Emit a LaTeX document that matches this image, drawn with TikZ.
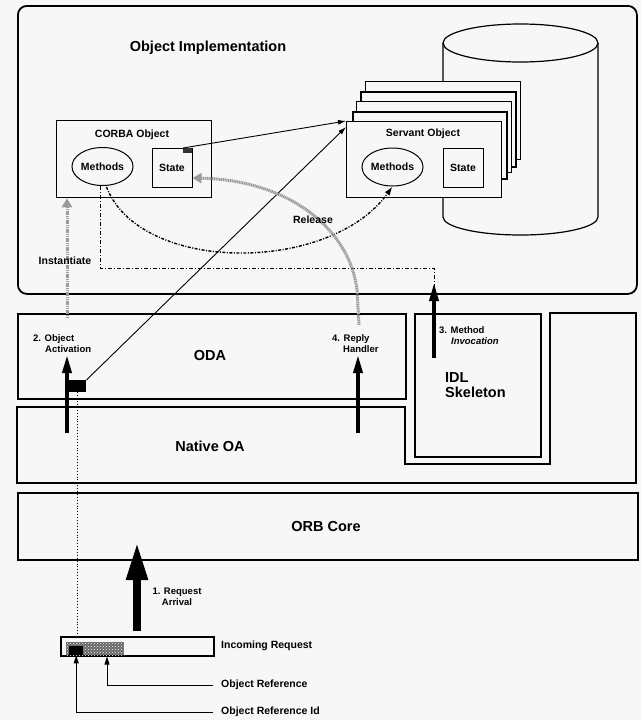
\documentclass[tikz,border=0pt]{standalone}
\usepackage{fontspec}
\setmainfont{Liberation Sans}
\usetikzlibrary{arrows.meta,shapes.geometric,calc,patterns}
\definecolor{bg}{HTML}{F7F7F7}
\definecolor{hatch}{HTML}{9A9A9A}
\begin{document}
\begin{tikzpicture}[x=1pt,y=-1pt,
  layer/.style={draw,line width=1.8pt,inner sep=0pt,anchor=north west},
  objbox/.style={draw,line width=1.3pt,fill=bg,inner sep=0pt,anchor=north west},
  bigtxt/.style={font=\fontsize{14.5}{16}\selectfont\bfseries,inner sep=0pt},
  lbl/.style={font=\fontsize{10.5}{11}\selectfont\bfseries,inner sep=0pt},
  steplbl/.style={font=\fontsize{9.5}{11}\selectfont\bfseries,inner sep=0pt,align=left,anchor=west},
  methodell/.style={draw,ellipse,line width=1pt,inner sep=0pt,minimum width=55pt,minimum height=38pt,font=\fontsize{10.5}{11}\selectfont\bfseries},
  statebox/.style={draw,line width=1pt,inner sep=0pt,minimum width=40pt,minimum height=39pt,font=\fontsize{10.5}{11}\selectfont\bfseries},
  steparrow/.style={line width=3.5pt,-{Triangle[length=18pt,width=9pt]}},
  thinln/.style={line width=0.9pt,-{Latex[length=8pt,width=5pt]}},
  dashdot/.style={line width=1pt,dash pattern=on 4pt off 2pt on 1pt off 2pt},
  curvedash/.style={line width=1.4pt,dash pattern=on 3pt off 1.5pt on 1pt off 1.5pt,-{Latex[length=9pt,width=6pt]}},
  grayarrow/.style={draw=hatch,line width=3pt,dash pattern=on 1.2pt off 0.6pt,-{Triangle[length=9pt,width=10pt]}},
  refarrow/.style={line width=1pt,-{Triangle[length=8pt,width=5pt]}}
]
\fill[bg] (0,0) rectangle (641,720);
\useasboundingbox (0,0) rectangle (641,720);

% Object implementation
\node[layer,rounded corners=9pt,minimum width=619pt,minimum height=288pt] (impl) at (17,5) {};
\node[bigtxt] (impltxt) at (208,48) {Object Implementation};

% cylinder
\draw[line width=1.2pt] (443,43) -- (443,217) arc(180:0:77.5 and 18) -- (598,43);
\draw[line width=1.2pt] (520.5,43) ellipse (77.5 and 19);

% servant stack
\node[objbox,minimum width=155pt,minimum height=78pt,line width=1pt] (sv5) at (365,81) {};
\node[objbox,minimum width=155pt,minimum height=75pt,line width=1.6pt] (sv4) at (360,91) {};
\node[objbox,minimum width=155pt,minimum height=71pt,line width=1pt] (sv3) at (356,101) {};
\node[objbox,minimum width=154pt,minimum height=67pt,line width=1.6pt] (sv2) at (352,111) {};
\node[objbox,minimum width=155pt,minimum height=76pt] (servant) at (346,121) {};
\node[lbl] (servtxt) at (423,134) {Servant Object};
\node[methodell] (sm) at (392.5,167) {Methods};
\node[statebox] (ss) at (463,167.5) {State};

% CORBA object
\node[objbox,minimum width=155pt,minimum height=77pt] (corba) at (56,120) {};
\node[lbl] (corbatxt) at (132,135) {CORBA Object};
\node[methodell] (cm) at (102.5,166.5) {Methods};
\node[statebox] (cs) at (172,168) {State};
\node[fill=black!80,minimum width=9pt,minimum height=5pt,inner sep=0pt,anchor=north east] (ctab) at (cs.north east) {};

% layers
\node[layer,minimum width=388pt,minimum height=85pt] (oda) at (17,313) {};
\node[bigtxt] (odatxt) at (210,356) {ODA};
\draw[line width=1.8pt] (17,407) -- (405,407) -- (405,464) -- (550,464) -- (550,313) -- (636,313) -- (636,483) -- (17,483) -- cycle;
\node[bigtxt] (natxt) at (210,446) {Native OA};
\node[layer,minimum width=126pt,minimum height=143pt] (idl) at (414,313) {};
\node[bigtxt,align=left,anchor=west,font=\fontsize{14.5}{15}\selectfont\bfseries] (idltxt) at (445,385) {IDL\\Skeleton};
\node[layer,minimum width=620pt,minimum height=67pt] (orb) at (17,492) {};
\node[bigtxt] (orbtxt) at (326,527) {ORB Core};

% ODA black box
\node[fill=black,minimum width=17pt,minimum height=12pt,inner sep=0pt,anchor=north west] (odabox) at (69,380) {};

% incoming request
\node[layer,line width=1.6pt,minimum width=153pt,minimum height=19pt] (inreq) at (60,636) {};
\node[fill=black!60,minimum width=58pt,minimum height=13pt,inner sep=0pt,anchor=north west] (hatchpart) at (66,642) {};
\fill[pattern=crosshatch dots,pattern color=white] (hatchpart.south west) rectangle (hatchpart.north east);
\node[fill=black,minimum width=14pt,minimum height=9pt,inner sep=0pt,anchor=north west] (refid) at (69,646) {};
\node[lbl,anchor=west] (inreqtxt) at (221,646) {Incoming Request};
\node[lbl,anchor=west] (ortxt) at (221,685) {Object Reference};
\node[lbl,anchor=west] (oridtxt) at (221,712) {Object Reference Id};

% reference arrows
\draw[refarrow] ($(ortxt.west)+(-8,0)$) -| (inreq.south -| 107,0);
\draw[refarrow] ($(oridtxt.west)+(-8,0)$) -| (refid.south);

% dotted line from ODA box to request
\draw[line width=0.9pt,dotted] (odabox.south) -- (inreq.north -| odabox.south);

% arrow 1
\coordinate (a1s) at (137,631);
\coordinate (a1e) at (137,542);
\draw[line width=8pt,-{Triangle[length=38pt,width=20pt]}] (a1s) -- (a1e);
\node[lbl,align=center,font=\fontsize{9.5}{11}\selectfont\bfseries] (a1txt) at (177,597) {1. Request\\Arrival};

% arrow 2
\coordinate (a2s) at (67,433);
\coordinate (a2e) at (67,355);
\draw[steparrow] (a2s) -- (a2e);
\node[steplbl] (a2txt) at (33,344) {2. Object\\\hspace*{12pt}Activation};

% arrow 4
\coordinate (a4s) at (358,433);
\coordinate (a4e) at (358,355);
\draw[steparrow] (a4s) -- (a4e);
\node[steplbl] (a4txt) at (332,344) {4. Reply\\\hspace*{11pt}Handler};

% arrow 3
\coordinate (a3s) at (434,358);
\coordinate (a3e) at (434,283);
\draw[steparrow] (a3s) -- (a3e);
\node[steplbl] (a3txt) at (439,336) {3. Method\\\hspace*{12pt}\itshape Invocation};

% dash-dot connector
\coordinate (inv) at (434,268);
\draw[dashdot] ($(cm.south)+(-2.5,0)$) |- (inv) -- (inv |- impl.south);

% methods to methods
\draw[curvedash] ($(cm.south)+(4,1)$) .. controls (140,274) and (330,274) .. (sm.south);

% state tab to servant
\draw[thinln] (ctab.north west) -- (servant.north west);
% ODA box to servant
\draw[thinln] (odabox.north east) -- ($(servant.north west)+(0,6)$);

% release
\coordinate (rel0) at (359,325);
\draw[grayarrow] (rel0) -- (357,290) .. controls (350,230) and (290,180) .. ($(cs.south east)+(0,-10)$);
\node[lbl] (reltxt) at (313,220) {Release};

% instantiate
\coordinate (inst0) at (67,318);
\draw[grayarrow] (inst0) -- ($(corba.south west)+(11,0)$);
\node[lbl] (insttxt) at (65,261) {Instantiate};
\end{tikzpicture}
\end{document}
